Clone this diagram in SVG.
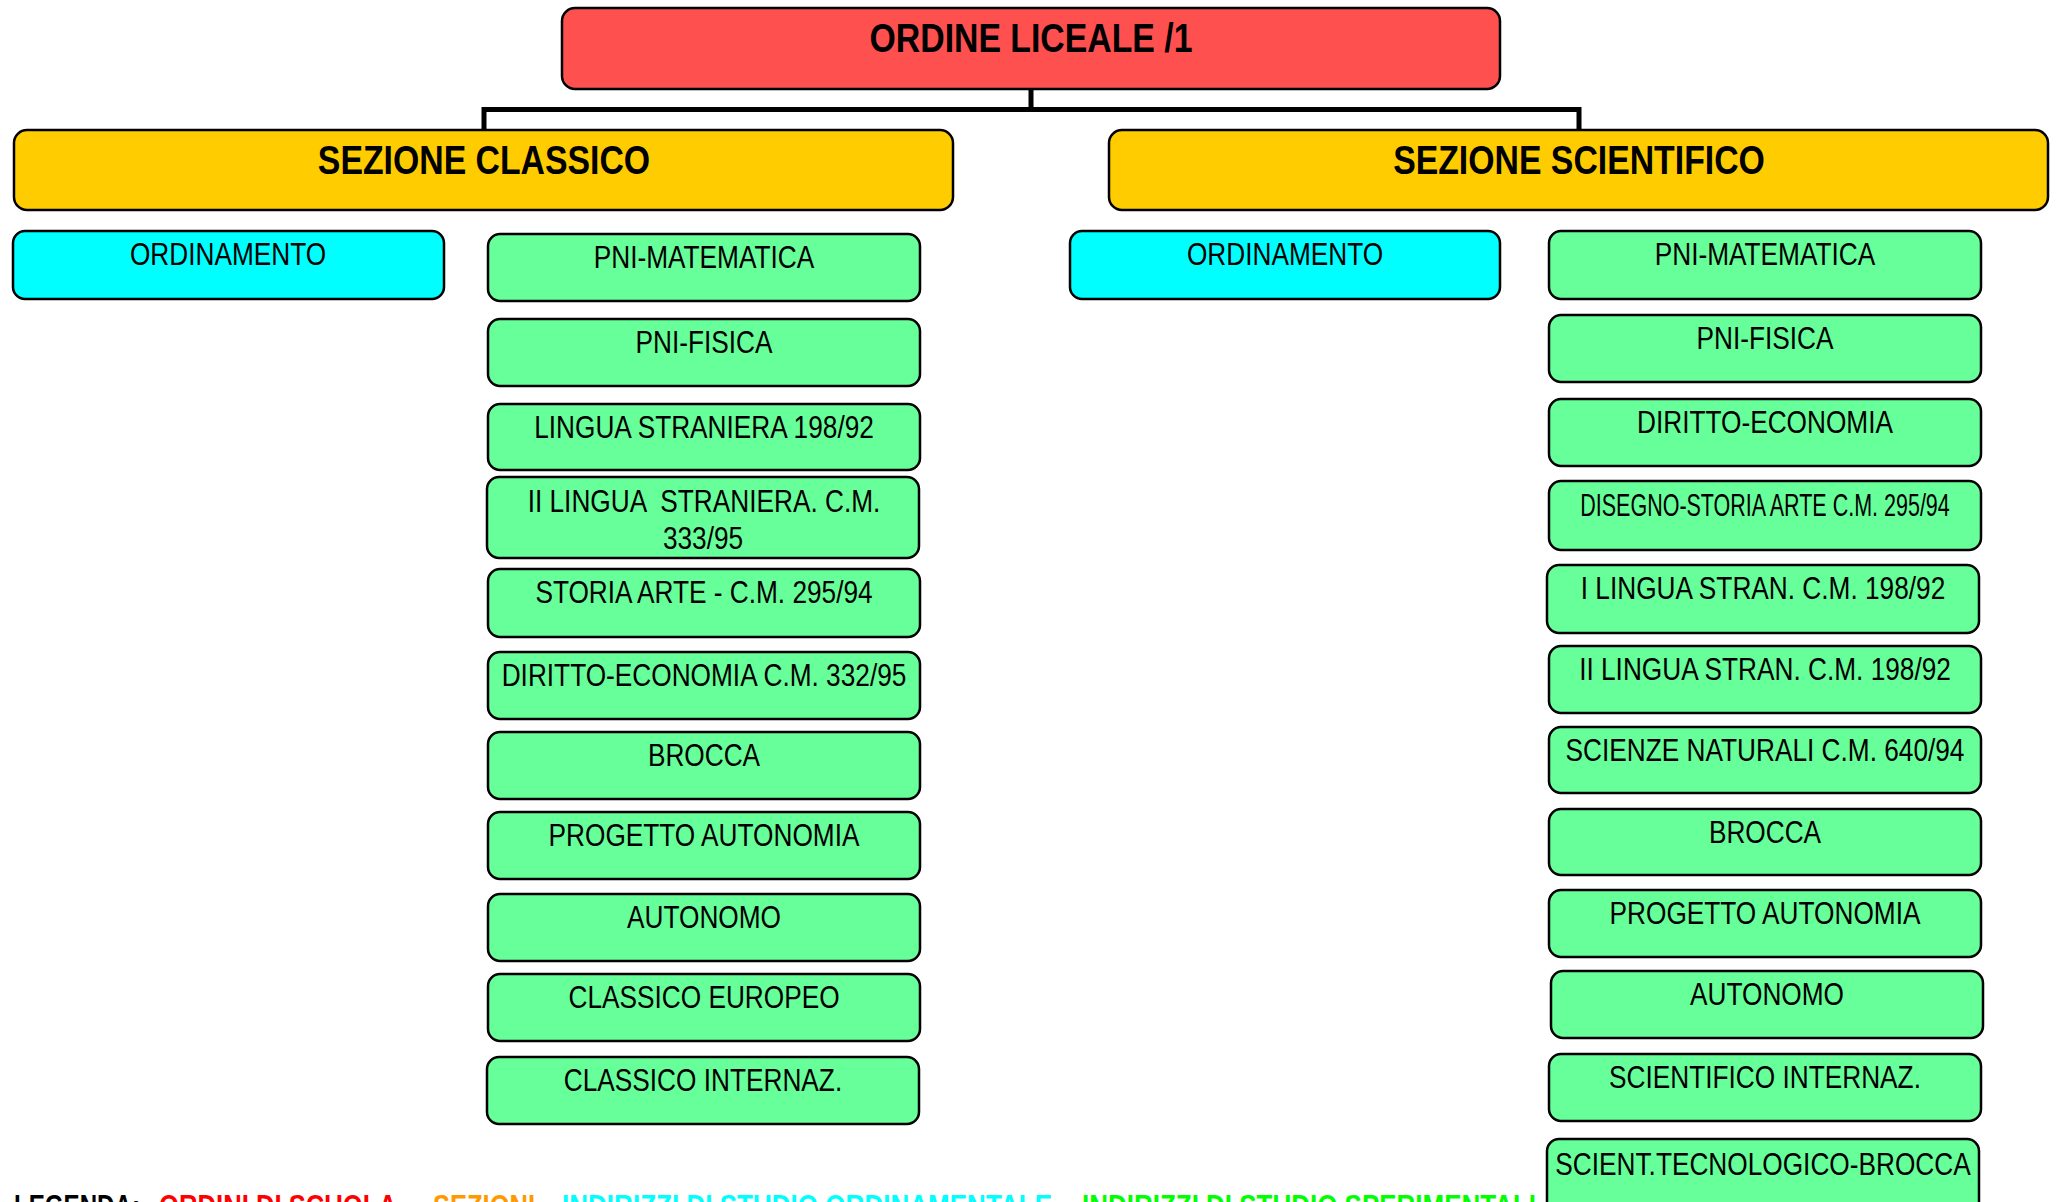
<svg xmlns="http://www.w3.org/2000/svg" width="2058" height="1202" viewBox="0 0 2058 1202">
<style>
rect{stroke:#000;stroke-width:2.5}
.red{fill:#FF5050}.gold{fill:#FFCC00}.cyan{fill:#00FFFF}.green{fill:#66FF99}
text{font-family:"Liberation Sans",Arial,sans-serif;fill:#000;text-anchor:middle}
.t{font-size:40px;font-weight:bold}
.n{font-size:32px}
.leg{font-size:30.5px;font-weight:bold;text-anchor:start}
.conn{fill:none;stroke:#000;stroke-width:5}
</style>
<rect width="2058" height="1202" fill="#fff" style="stroke:none"/>
<g id="connectors">
<path class="conn" d="M1031,89 V109.5"/>
<path class="conn" d="M484,131 V109.5 H1579 V131"/>
</g>
<g id="ordine-liceale"><rect class="red" x="562" y="8" width="938" height="81" rx="13"/><text class="t" transform="translate(1031 52) scale(.845 1)">ORDINE LICEALE /1</text></g>
<g id="sezione-classico"><rect class="gold" x="14" y="130" width="939" height="80" rx="13"/><text class="t" transform="translate(484 174) scale(.845 1)">SEZIONE CLASSICO</text></g>
<g id="sezione-scientifico"><rect class="gold" x="1109" y="130" width="939" height="80" rx="13"/><text class="t" transform="translate(1579 174) scale(.845 1)">SEZIONE SCIENTIFICO</text></g>
<g id="c-ordinamento"><rect class="cyan" x="13" y="231" width="431" height="68" rx="12"/><text class="n" transform="translate(228 265) scale(.82 1)">ORDINAMENTO</text></g>
<g id="c-pni-matematica"><rect class="green" x="488" y="234" width="432" height="67" rx="12"/><text class="n" transform="translate(704 268) scale(.82 1)">PNI-MATEMATICA</text></g>
<g id="c-pni-fisica"><rect class="green" x="488" y="319" width="432" height="67" rx="12"/><text class="n" transform="translate(704 353) scale(.82 1)">PNI-FISICA</text></g>
<g id="c-lingua-straniera"><rect class="green" x="488" y="404" width="432" height="66" rx="12"/><text class="n" transform="translate(704 438) scale(.82 1)">LINGUA STRANIERA 198/92</text></g>
<g id="c-ii-lingua"><rect class="green" x="487" y="477" width="432" height="81" rx="12"/><text class="n" xml:space="preserve" transform="translate(704 512) scale(.82 1)">II LINGUA  STRANIERA. C.M.</text><text class="n" transform="translate(703 549) scale(.82 1)">333/95</text></g>
<g id="c-storia-arte"><rect class="green" x="488" y="569" width="432" height="68" rx="12"/><text class="n" transform="translate(704 603) scale(.82 1)">STORIA ARTE - C.M. 295/94</text></g>
<g id="c-diritto-economia"><rect class="green" x="488" y="652" width="432" height="67" rx="12"/><text class="n" transform="translate(704 686) scale(.82 1)">DIRITTO-ECONOMIA C.M. 332/95</text></g>
<g id="c-brocca"><rect class="green" x="488" y="732" width="432" height="67" rx="12"/><text class="n" transform="translate(704 766) scale(.82 1)">BROCCA</text></g>
<g id="c-progetto-autonomia"><rect class="green" x="488" y="812" width="432" height="67" rx="12"/><text class="n" transform="translate(704 846) scale(.82 1)">PROGETTO AUTONOMIA</text></g>
<g id="c-autonomo"><rect class="green" x="488" y="894" width="432" height="67" rx="12"/><text class="n" transform="translate(704 928) scale(.82 1)">AUTONOMO</text></g>
<g id="c-classico-europeo"><rect class="green" x="488" y="974" width="432" height="67" rx="12"/><text class="n" transform="translate(704 1008) scale(.82 1)">CLASSICO EUROPEO</text></g>
<g id="c-classico-internaz"><rect class="green" x="487" y="1057" width="432" height="67" rx="12"/><text class="n" transform="translate(703 1091) scale(.82 1)">CLASSICO INTERNAZ.</text></g>
<g id="s-ordinamento"><rect class="cyan" x="1070" y="231" width="430" height="68" rx="12"/><text class="n" transform="translate(1285 265) scale(.82 1)">ORDINAMENTO</text></g>
<g id="s-pni-matematica"><rect class="green" x="1549" y="231" width="432" height="68" rx="12"/><text class="n" transform="translate(1765 265) scale(.82 1)">PNI-MATEMATICA</text></g>
<g id="s-pni-fisica"><rect class="green" x="1549" y="315" width="432" height="67" rx="12"/><text class="n" transform="translate(1765 349) scale(.82 1)">PNI-FISICA</text></g>
<g id="s-diritto-economia"><rect class="green" x="1549" y="399" width="432" height="67" rx="12"/><text class="n" transform="translate(1765 433) scale(.82 1)">DIRITTO-ECONOMIA</text></g>
<g id="s-disegno"><rect class="green" x="1549" y="481" width="432" height="69" rx="12"/><text class="n" transform="translate(1765 516) scale(.672 1)">DISEGNO-STORIA ARTE C.M. 295/94</text></g>
<g id="s-i-lingua"><rect class="green" x="1547" y="565" width="432" height="68" rx="12"/><text class="n" transform="translate(1763 599) scale(.82 1)">I LINGUA STRAN. C.M. 198/92</text></g>
<g id="s-ii-lingua"><rect class="green" x="1549" y="646" width="432" height="67" rx="12"/><text class="n" transform="translate(1765 680) scale(.82 1)">II LINGUA STRAN. C.M. 198/92</text></g>
<g id="s-scienze-naturali"><rect class="green" x="1549" y="727" width="432" height="66" rx="12"/><text class="n" transform="translate(1765 761) scale(.82 1)">SCIENZE NATURALI C.M. 640/94</text></g>
<g id="s-brocca"><rect class="green" x="1549" y="809" width="432" height="66" rx="12"/><text class="n" transform="translate(1765 843) scale(.82 1)">BROCCA</text></g>
<g id="s-progetto-autonomia"><rect class="green" x="1549" y="890" width="432" height="67" rx="12"/><text class="n" transform="translate(1765 924) scale(.82 1)">PROGETTO AUTONOMIA</text></g>
<g id="s-autonomo"><rect class="green" x="1551" y="971" width="432" height="67" rx="12"/><text class="n" transform="translate(1767 1005) scale(.82 1)">AUTONOMO</text></g>
<g id="s-scientifico-internaz"><rect class="green" x="1549" y="1054" width="432" height="67" rx="12"/><text class="n" transform="translate(1765 1088) scale(.82 1)">SCIENTIFICO INTERNAZ.</text></g>
<g id="s-scient-tecnologico"><rect class="green" x="1547" y="1139" width="432" height="80" rx="12"/><text class="n" transform="translate(1763 1175) scale(.82 1)">SCIENT.TECNOLOGICO-BROCCA</text></g>
<g id="legenda">
<text class="leg" x="14" y="1217" textLength="126" lengthAdjust="spacingAndGlyphs">LEGENDA:</text>
<text class="leg" x="159" y="1217" style="fill:#FF0000" textLength="238" lengthAdjust="spacingAndGlyphs">ORDINI DI SCUOLA</text>
<text class="leg" x="433" y="1217" style="fill:#FF9900" textLength="102" lengthAdjust="spacingAndGlyphs">SEZIONI</text>
<text class="leg" x="562" y="1217" style="fill:#00FFFF" textLength="490" lengthAdjust="spacingAndGlyphs">INDIRIZZI DI STUDIO ORDINAMENTALE</text>
<text class="leg" x="1082" y="1217" style="fill:#00FF00" textLength="454" lengthAdjust="spacingAndGlyphs">INDIRIZZI DI STUDIO SPERIMENTALI</text>
</g>
</svg>
